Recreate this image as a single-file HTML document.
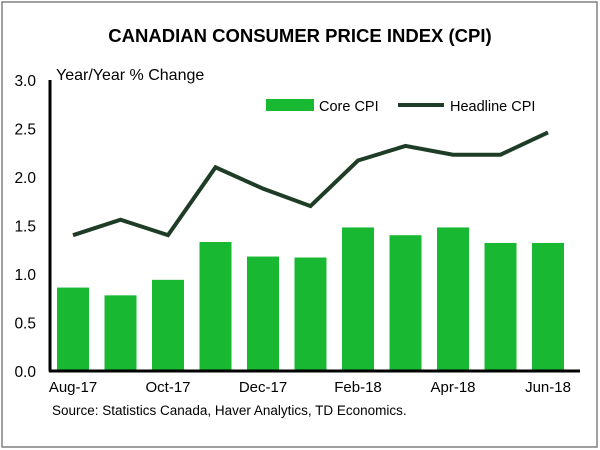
<!DOCTYPE html>
<html><head><style>
body{margin:0;background:#fff;}
svg{display:block;font-family:"Liberation Sans",Arial,sans-serif;}
</style></head><body>
<svg width="600" height="450">
<rect x="2" y="2" width="595" height="445" fill="#fff" stroke="#808080" stroke-width="1.5"/>
<text x="300" y="42" text-anchor="middle" font-size="18.5" font-weight="bold" fill="#000">CANADIAN CONSUMER PRICE INDEX (CPI)</text>
<text x="56" y="80" font-size="16" fill="#000">Year/Year % Change</text>
<g id="bars"></g><g id="line"></g><g id="yt"></g><g id="xt"></g>
<line x1="50" y1="80" x2="50" y2="371.5" stroke="#000" stroke-width="3"/>
<line x1="49" y1="371" x2="580" y2="371" stroke="#000" stroke-width="3"/>
<rect x="266" y="99" width="48" height="12" fill="#19b832"/>
<text x="319" y="111" font-size="14.5">Core CPI</text>
<line x1="398" y1="105" x2="444" y2="105" stroke="#1f3d26" stroke-width="4"/>
<text x="450" y="111" font-size="14.5">Headline CPI</text>
<text x="52" y="415" font-size="13.5" fill="#000">Source: Statistics Canada, Haver Analytics, TD Economics.</text>
</svg>
<script>
const categories=["Aug-17","Sep-17","Oct-17","Nov-17","Dec-17","Jan-18","Feb-18","Mar-18","Apr-18","May-18","Jun-18"];
const coreCPI=[0.86,0.78,0.94,1.33,1.18,1.17,1.48,1.40,1.48,1.32,1.32];
const headlineCPI=[1.40,1.56,1.40,2.10,1.88,1.70,2.17,2.32,2.23,2.23,2.46];
const yTicks=[0,0.5,1.0,1.5,2.0,2.5,3.0];
const xLabels=["Aug-17","","Oct-17","","Dec-17","","Feb-18","","Apr-18","","Jun-18"];
const NS="http://www.w3.org/2000/svg";
const y=v=>371-v*97;
const x=i=>73+i*47.5;
function mk(t,a,p){const e=document.createElementNS(NS,t);for(const k in a)e.setAttribute(k,a[k]);document.getElementById(p).appendChild(e);return e;}
coreCPI.forEach((v,i)=>{const r=mk('rect',{x:x(i)-16,y:y(v),width:32,height:371-y(v),fill:'#19b832'},'bars');

});
const pl=mk('polyline',{points:headlineCPI.map((v,i)=>x(i)+','+y(v)).join(' '),fill:'none',stroke:'#1f3d26','stroke-width':4,'stroke-linejoin':'miter'},'line');


yTicks.forEach(v=>{const t=mk('text',{x:36,y:y(v)+6,'text-anchor':'end','font-size':15.5},'yt');t.textContent=v.toFixed(1);

});
xLabels.forEach((l,i)=>{if(!l)return;const t=mk('text',{x:x(i),y:392,'text-anchor':'middle','font-size':15},'xt');t.textContent=l;

});
</script>
</body></html>
